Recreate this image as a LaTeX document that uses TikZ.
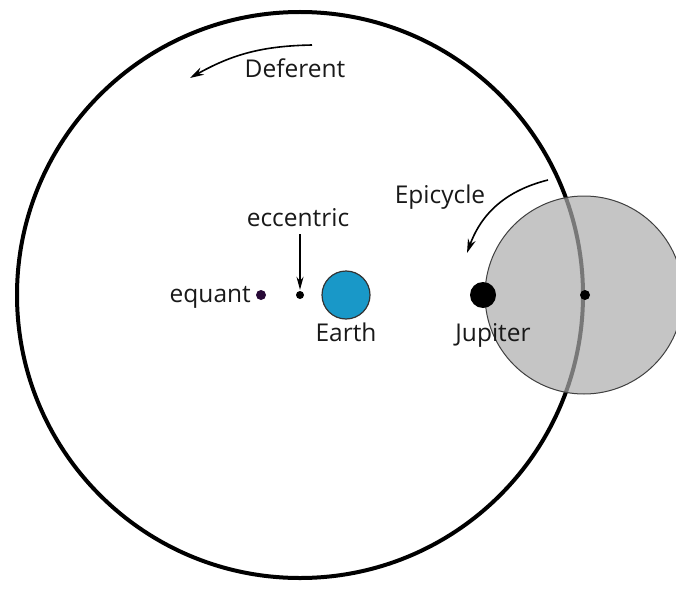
\documentclass[tikz,border=0pt]{standalone}
\usepackage{fontspec}
\setmainfont{Open Sans}
\usetikzlibrary{arrows.meta}
\definecolor{earthblue}{RGB}{25,152,200}
\definecolor{epigray}{RGB}{172,172,172}
\definecolor{textgray}{RGB}{25,25,25}
\definecolor{equantpurple}{RGB}{40,10,55}
\tikzset{
  lbl/.style={text=textgray,font=\fontsize{24.5}{28}\selectfont,inner sep=0pt,anchor=base},
  dot/.style={circle,fill=black,inner sep=0pt,minimum size=#1},
  curarrow/.style={line width=1.6pt,-{Stealth[length=14pt,width=8pt]}}
}
\begin{document}
\begin{tikzpicture}[x=1pt,y=-1pt]
	\useasboundingbox (0,0) rectangle (676,588);
	%\clip(0,0) rectangle (676,588);
	\draw[line width=4pt] (300,295) circle (283);
	\fill[epigray, fill opacity=0.7] (584,295) circle (99);
	\draw[line width=1pt, black!75] (584,295) circle (99);
	\node[dot=10pt, fill=equantpurple] (equant) at (261,295) {};
	\node[dot=8pt] (eccentric) at (300,295) {};
	\node[circle, fill=earthblue, draw=black!80, line width=1.2pt, minimum size=48pt, inner sep=0pt] (earth) at (346,295) {};
	\node[dot=26pt] (jupiter) at (483,295) {};
	\node[dot=10pt] (epicenter) at (585,295) {};
	\node[lbl, anchor=base east] (equantlabel) at (251,302) {equant};
	\node[lbl] (eccentriclabel) at (298,226) {eccentric};
	\node[lbl] (earthlabel) at (346,341) {Earth};
	\node[lbl] (jupiterlabel) at (493,341) {Jupiter};
	\node[lbl] (deferentlabel) at (295,78) {Deferent};
	\node[lbl] (epicyclelabel) at (440,203) {Epicycle};
	\draw[line width=1.6pt, -{Stealth[length=13pt,width=7pt]}, shorten <=8pt, shorten >=1pt] (eccentric |- eccentriclabel.south) -- (eccentric.north);
	\coordinate (defstart) at (312,45);
	\coordinate (deftip) at (190,78);
	\draw[curarrow] (defstart) to[bend right=14] (deftip);
	\coordinate (epistart) at (548,180);
	\coordinate (epitip) at (467,253);
	\draw[curarrow] (epistart) to[bend right=28] (epitip);
\end{tikzpicture}
\end{document}
